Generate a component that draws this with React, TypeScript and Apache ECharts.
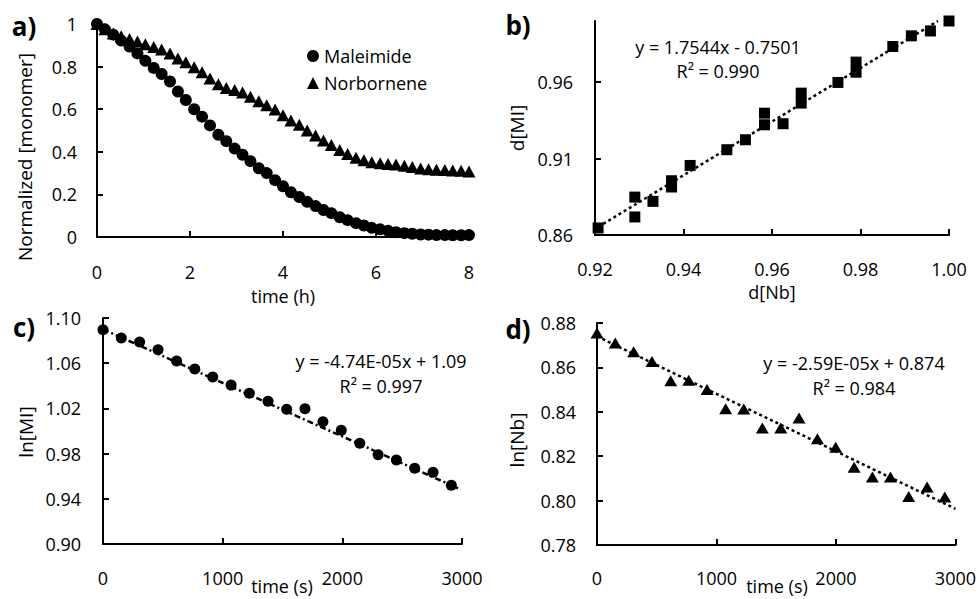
import React, { useEffect, useRef } from "react";
import * as echarts from "echarts";

// ---------- Panel a ----------
const timeH = [0, 0.17, 0.35, 0.52, 0.7, 0.87, 1.04, 1.22, 1.39, 1.57, 1.74, 1.91, 2.09, 2.26, 2.43, 2.61, 2.78, 2.96, 3.13, 3.3, 3.48, 3.65, 3.83, 4.0, 4.17, 4.35, 4.52, 4.7, 4.87, 5.04, 5.22, 5.39, 5.57, 5.74, 5.91, 6.09, 6.26, 6.43, 6.61, 6.78, 6.96, 7.13, 7.3, 7.48, 7.65, 7.83, 8.0];
const maleimide = [1.0, 0.975, 0.95, 0.922, 0.894, 0.862, 0.827, 0.794, 0.765, 0.73, 0.683, 0.643, 0.6, 0.565, 0.524, 0.48, 0.45, 0.415, 0.386, 0.356, 0.323, 0.3, 0.267, 0.238, 0.21, 0.188, 0.165, 0.145, 0.127, 0.112, 0.093, 0.079, 0.065, 0.054, 0.043, 0.036, 0.029, 0.022, 0.018, 0.015, 0.012, 0.011, 0.009, 0.009, 0.008, 0.008, 0.009];
const norbornene = [1.0, 0.975, 0.955, 0.942, 0.93, 0.918, 0.905, 0.892, 0.88, 0.862, 0.838, 0.82, 0.797, 0.774, 0.744, 0.717, 0.7, 0.69, 0.678, 0.658, 0.637, 0.618, 0.599, 0.572, 0.547, 0.527, 0.5, 0.476, 0.453, 0.432, 0.408, 0.39, 0.372, 0.36, 0.351, 0.346, 0.343, 0.34, 0.334, 0.329, 0.322, 0.318, 0.316, 0.314, 0.312, 0.311, 0.308];
const ticksAx = [0, 2, 4, 6, 8];
const ticksAy = [0, 0.2, 0.4, 0.6, 0.8, 1];

// ---------- Panel b ----------
const dNb = [0.9207, 0.929, 0.929, 0.9331, 0.9373, 0.9373, 0.9415, 0.9498, 0.954, 0.9583, 0.9583, 0.9625, 0.9666, 0.9666, 0.9749, 0.979, 0.979, 0.9873, 0.9915, 0.9958, 1.0];
const dMI = [0.8646, 0.8848, 0.8718, 0.882, 0.8955, 0.8914, 0.9055, 0.9158, 0.9223, 0.9397, 0.9321, 0.9328, 0.9528, 0.9463, 0.9598, 0.9731, 0.9665, 0.9833, 0.9903, 0.9935, 1.0];
const trendB = [[0.9207, 0.8652], [0.9975, 1.0]];
const ticksBx = [0.92, 0.94, 0.96, 0.98, 1.0];
const ticksBy = [0.86, 0.91, 0.96];

// ---------- Panel c ----------
const timeSc = [0, 153, 306, 460, 615, 767, 917, 1070, 1223, 1379, 1535, 1688, 1838, 1991, 2146, 2299, 2452, 2605, 2758, 2911];
const lnMI = [1.0897, 1.0823, 1.0787, 1.0719, 1.0619, 1.0548, 1.0477, 1.0406, 1.0335, 1.0264, 1.0193, 1.0196, 1.0081, 1.0007, 0.9892, 0.9789, 0.9744, 0.9671, 0.9635, 0.952];
const trendC = [[0, 1.09], [2980, 0.9487]];
const ticksCx = [0, 1000, 2000, 3000];
const ticksCy = [0.9, 0.94, 0.98, 1.02, 1.06, 1.1];

// ---------- Panel d ----------
const timeSd = [0, 153, 307, 460, 617, 768, 921, 1077, 1228, 1384, 1538, 1691, 1845, 1998, 2152, 2305, 2456, 2609, 2763, 2911];
const lnNb = [0.8755, 0.871, 0.867, 0.8627, 0.854, 0.8542, 0.85, 0.8414, 0.8413, 0.8327, 0.8327, 0.8372, 0.8279, 0.824, 0.815, 0.8106, 0.8106, 0.8019, 0.8061, 0.8016];
const trendD = [[0, 0.874], [3000, 0.7963]];
const ticksDx = [0, 1000, 2000, 3000];
const ticksDy = [0.78, 0.8, 0.82, 0.84, 0.86, 0.88];

const FONT = "Open Sans";
const BLACK = "#000";

function axis(
  gridIndex: number,
  min: number,
  max: number,
  ticks: number[],
  margin: number,
  fmt: (v: number) => string
) {
  return {
    type: "value",
    gridIndex,
    min,
    max,
    splitLine: { show: false },
    axisLine: { show: true, onZero: false, lineStyle: { color: BLACK, width: 2 } },
    axisTick: {
      show: true,
      inside: true,
      length: 6,
      customValues: ticks,
      lineStyle: { color: BLACK, width: 2 },
    },
    axisLabel: {
      show: true,
      customValues: ticks,
      margin,
      color: BLACK,
      fontSize: 18,
      fontFamily: FONT,
      formatter: (v: number) => fmt(v),
    },
  };
}

function txt(text: string, x: number, y: number, size: number, opts: any = {}) {
  return {
    type: "text",
    x,
    y,
    rotation: opts.rotation || 0,
    z: 100,
    style: {
      text,
      fill: BLACK,
      fontSize: size,
      fontFamily: FONT,
      fontWeight: opts.bold ? "bold" : "normal",
      align: opts.align || "center",
      verticalAlign: "middle",
    },
  };
}

export default function App() {
  const ref = useRef<HTMLDivElement>(null);

  useEffect(() => {
    if (!ref.current) return;
    const chart = echarts.init(ref.current, null, { renderer: "svg" });
    const f2 = (v: number) => v.toFixed(2);
    const f0 = (v: number) => String(Math.round(v));
    const fa = (v: number) => String(Math.round(v * 10) / 10);
    const mark = { color: BLACK, opacity: 1 };

    const option: any = {
      animation: false,
      backgroundColor: "#fff",
      textStyle: { fontFamily: FONT },
      grid: [
        { left: 97, top: 24, width: 372, height: 213 },
        { left: 595, top: 21, width: 354, height: 214 },
        { left: 103, top: 318, width: 359, height: 226 },
        { left: 597, top: 323, width: 359, height: 222 },
      ],
      xAxis: [
        axis(0, 0, 8, ticksAx, 26, f0),
        axis(1, 0.92, 1.0, ticksBx, 25, f2),
        axis(2, 0, 3000, ticksCx, 25, f0),
        axis(3, 0, 3000, ticksDx, 24, f0),
      ],
      yAxis: [
        axis(0, 0, 1, ticksAy, 20, fa),
        axis(1, 0.86, 1.0, ticksBy, 22, f2),
        axis(2, 0.9, 1.1, ticksCy, 22, f2),
        axis(3, 0.78, 0.88, ticksDy, 21, f2),
      ],
      legend: {
        data: ["Maleimide", "Norbornene"],
        orient: "vertical",
        left: 307,
        top: 47,
        padding: 0,
        itemWidth: 12,
        itemHeight: 12,
        itemGap: 9,
        textStyle: { color: BLACK, fontSize: 18, fontFamily: FONT },
      },
      series: [
        {
          name: "Maleimide",
          type: "scatter",
          xAxisIndex: 0,
          yAxisIndex: 0,
          symbol: "circle",
          symbolSize: 12,
          clip: false,
          itemStyle: mark,
          data: timeH.map((t, i) => [t, maleimide[i]]),
        },
        {
          name: "Norbornene",
          type: "scatter",
          xAxisIndex: 0,
          yAxisIndex: 0,
          symbol: "triangle",
          symbolSize: [13, 12],
          clip: false,
          itemStyle: mark,
          data: timeH.map((t, i) => [t, norbornene[i]]),
        },
        {
          type: "line",
          xAxisIndex: 1,
          yAxisIndex: 1,
          showSymbol: false,
          symbol: "none",
          z: 1,
          lineStyle: { color: BLACK, width: 2.5, type: [3, 3] },
          data: trendB,
        },
        {
          type: "scatter",
          xAxisIndex: 1,
          yAxisIndex: 1,
          symbol: "rect",
          symbolSize: 11,
          clip: false,
          z: 2,
          itemStyle: mark,
          data: dNb.map((x, i) => [x, dMI[i]]),
        },
        {
          type: "line",
          xAxisIndex: 2,
          yAxisIndex: 2,
          showSymbol: false,
          symbol: "none",
          z: 1,
          lineStyle: { color: BLACK, width: 2.5, type: [6, 3, 2, 3] },
          data: trendC,
        },
        {
          type: "scatter",
          xAxisIndex: 2,
          yAxisIndex: 2,
          symbol: "circle",
          symbolSize: 11,
          clip: false,
          z: 2,
          itemStyle: mark,
          data: timeSc.map((t, i) => [t, lnMI[i]]),
        },
        {
          type: "line",
          xAxisIndex: 3,
          yAxisIndex: 3,
          showSymbol: false,
          symbol: "none",
          z: 1,
          lineStyle: { color: BLACK, width: 2.5, type: [3, 3] },
          data: trendD,
        },
        {
          type: "scatter",
          xAxisIndex: 3,
          yAxisIndex: 3,
          symbol: "triangle",
          symbolSize: [13, 11],
          clip: false,
          z: 2,
          itemStyle: mark,
          data: timeSd.map((t, i) => [t, lnNb[i]]),
        },
      ],
      graphic: [
        // panel letters
        txt("a)", 24, 26, 26, { bold: true }),
        txt("b)", 518, 25, 26, { bold: true }),
        txt("c)", 24, 327, 26, { bold: true }),
        txt("d)", 518, 329, 26, { bold: true }),
        // axis titles
        txt("time (h)", 283, 296, 18),
        txt("Normalized [monomer]", 25, 157, 19, { rotation: Math.PI / 2 }),
        txt("d[Nb]", 772, 292, 18),
        txt("d[MI]", 517, 128, 19, { rotation: Math.PI / 2 }),
        txt("time (s)", 282, 586, 18),
        txt("ln[MI]", 26, 432, 19, { rotation: Math.PI / 2 }),
        txt("time (s)", 777, 586, 18),
        txt("ln[Nb]", 517, 440, 19, { rotation: Math.PI / 2 }),
        // equations
        txt("y = 1.7544x - 0.7501", 718, 47, 18),
        txt("R² = 0.990", 718, 71, 18),
        txt("y = -4.74E-05x + 1.09", 381, 361, 18),
        txt("R² = 0.997", 381, 386, 18),
        txt("y = -2.59E-05x + 0.874", 854, 363, 18),
        txt("R² = 0.984", 854, 388, 18),
      ],
    };

    chart.setOption(option);
    return () => chart.dispose();
  }, []);

  return (
    <div
      ref={ref}
      style={{ position: "fixed", left: 0, top: 0, width: 979, height: 599, background: "#fff" }}
    />
  );
}
